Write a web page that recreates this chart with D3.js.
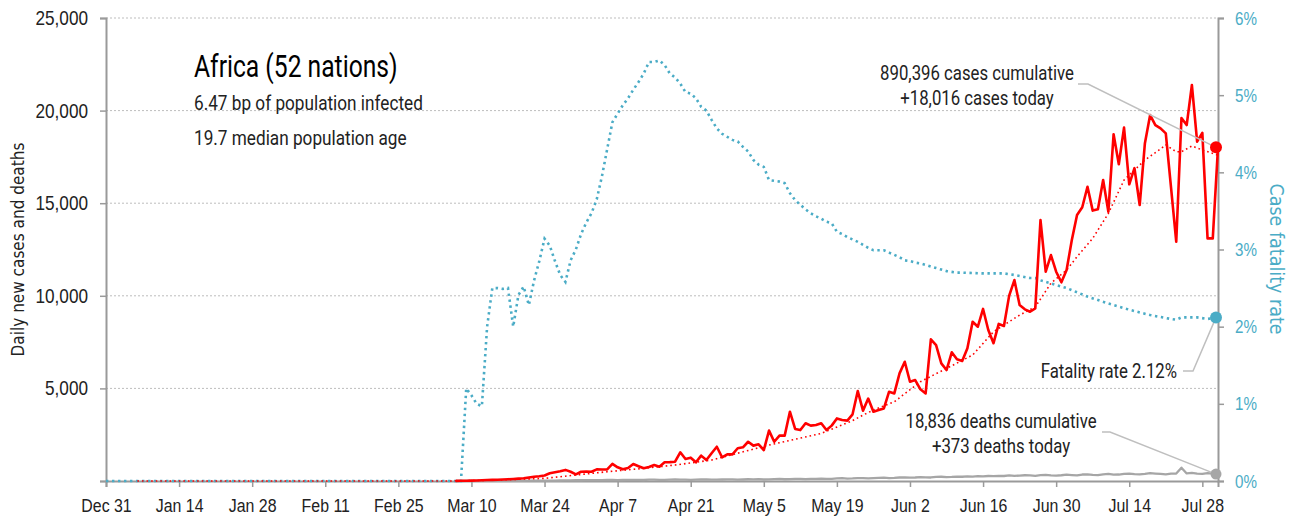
<!DOCTYPE html>
<html><head><meta charset="utf-8">
<script src="https://cdn.jsdelivr.net/npm/d3@7"></script>
<style>
body{margin:0;background:#fff;}
svg{display:block;font-family:Roboto,"Liberation Sans",sans-serif;}
</style></head><body>
<svg id="chart" width="1292" height="520"></svg>
<script>
// ---------- data ----------
const origin = new Date(2019, 11, 31);          // Dec 31
const endDate = new Date(2020, 6, 31);          // Jul 31
const seriesStart = new Date(2020, 2, 7);       // first day of daily series (Mar 7)

// daily new cases, Mar 7 .. Jul 31
const cases = [8,10,15,20,30,40,50,60,70,80,95,110,130,145,190,230,260,300,415,470,
  530,600,500,360,500,510,500,630,620,630,920,740,630,700,920,800,685,760,864,770,
  1010,1020,1040,1550,1190,1260,1010,1370,1130,1500,1850,1280,1440,1440,1770,1820,2120,1910,1980,1670,
  2720,2120,2450,2450,3740,2810,2750,3120,2990,3020,3120,2750,2990,3380,3290,3260,3600,4860,3800,4450,
  3740,3830,3920,4820,4730,5810,6440,5360,5450,4950,4730,7650,7340,6350,5990,6950,6570,6480,7170,8600,
  8330,9290,8150,7440,8480,8370,10010,10850,9500,9270,9140,9320,14090,11300,12200,11300,10730,11390,13010,14360,
  14780,15890,14600,14670,16250,14540,18720,17100,19080,16020,16890,14900,18240,19760,19220,19040,18770,15860,12920,19600,
  19220,21380,18320,18800,13100,13100,18016];

// daily new deaths, Mar 7 .. Jul 31
const deaths = [1,1,2,2,3,3,4,5,5,
  6,8,10,10,12,15,18,20,22,25,25,28,30,35,40,
  40,45,50,45,50,55,60,50,55,60,65,60,55,70,75,60,65,70,80,75,
  70,60,75,80,85,70,75,80,85,90,70,80,95,90,100,80,90,100,110,95,
  100,110,120,100,110,120,130,110,120,140,150,130,140,160,150,140,160,170,180,160,
  170,190,200,180,190,210,200,190,220,230,210,220,240,230,250,240,260,250,270,260,
  280,270,300,280,290,310,300,280,320,330,300,290,310,340,320,300,350,360,330,320,
  360,380,340,350,390,400,370,360,380,420,400,380,360,400,400,720,410,440,400,380,420,400,373];

// 7-day average of cases, day = days since Dec 31
const avgDays   = [6,66,75,84,90,96,103,109,116,121,127,137,143,145,147,151,156,161,166,170,175,178,181,184,186,189,192,195,197,199,201,203,205,206,208,210,213];
const avgValues = [0,0,50,145,320,500,685,860,1130,1500,1940,2570,3260,3560,3830,4280,5360,6080,6800,8060,8960,9400,10680,11390,12110,13100,14450,16250,16790,17330,17730,18140,17780,17780,18090,17870,17600];

// case fatality rate (%), day = days since Dec 31
const cfrDays = [0,68,69,70,71,72,73,74,75,76,77,78,79,80,81,82,83,84,85,86,87,88,89,90,91,92,93,94,95,96,97,
  99,100,101,102,103,104,105,106,107,108,109,110,111,112,113,114,115,116,117,118,119,120,121,122,123,124,125,126,127,128,129,130,
  131,132,133,134,135,136,137,138,139,140,141,142,143,144,145,146,147,148,149,150,151,152,153,154,155,156,157,158,159,160,161,
  162,163,164,168,172,174,177,178,179,181,184,188,192,196,200,204,205,206,209,211,213];
const cfrValues = [0,0,1.2,1.11,1.0,0.97,2.0,2.5,2.5,2.49,2.5,2.0,2.41,2.52,2.28,2.6,2.85,3.14,3.05,2.85,2.67,2.58,2.86,3.0,3.2,3.35,3.47,3.65,3.95,4.3,4.65,
  4.87,4.96,5.07,5.17,5.28,5.43,5.43,5.45,5.39,5.28,5.23,5.15,5.04,5.02,4.96,4.85,4.80,4.68,4.57,4.5,4.46,4.42,4.40,4.33,4.27,4.16,4.1,4.07,3.90,3.89,3.88,3.86,
  3.73,3.64,3.58,3.52,3.47,3.43,3.40,3.36,3.34,3.23,3.2,3.16,3.13,3.1,3.06,3.02,2.99,2.99,2.99,2.96,2.93,2.9,2.86,2.85,2.83,2.82,2.8,2.78,2.76,2.74,2.72,
  2.71,2.7,2.70,2.69,2.69,2.67,2.63,2.63,2.60,2.56,2.50,2.39,2.30,2.22,2.15,2.10,2.09,2.12,2.12,2.10,2.12];

const leftTicks = [0,5000,10000,15000,20000,25000];
const leftTickLabels = ["","5,000","10,000","15,000","20,000","25,000"];
const rightTicks = [0,1,2,3,4,5,6];
const rightTickLabels = ["0%","1%","2%","3%","4%","5%","6%"];
const xTickLabels = ["Dec 31","Jan 14","Jan 28","Feb 11","Feb 25","Mar 10","Mar 24","Apr 7","Apr 21","May 5","May 19","Jun 2","Jun 16","Jun 30","Jul 14","Jul 28"];

const title = "Africa (52 nations)";
const subtitle1 = "6.47 bp of population infected";
const subtitle2 = "19.7 median population age";
const casesNote = ["890,396 cases cumulative","+18,016 cases today"];
const deathsNote = ["18,836 deaths cumulative","+373 deaths today"];
const cfrNote = "Fatality rate 2.12%";

// ---------- layout ----------
const L = 106, R = 1218, T = 18, B = 481;
const RED = "#ff0000", BLUE = "#4bacc6", GRAY = "#a6a6a6", AXIS = "#9a9a9a";
const S = 0.86; // horizontal condensing of the text face

const svg = d3.select("#chart");
const x = d3.scaleTime().domain([origin, endDate]).range([L, R]);
const y = d3.scaleLinear().domain([0, 25000]).range([B, T]);
const yr = d3.scaleLinear().domain([0, 6]).range([B, T]);

const dayDate = d => d3.timeDay.offset(origin, d);
const casesData = cases.map((v, i) => ({date: d3.timeDay.offset(seriesStart, i), v}));
const deathsData = deaths.map((v, i) => ({date: d3.timeDay.offset(seriesStart, i), v}));
const avgData = avgDays.map((d, i) => ({date: dayDate(d), v: avgValues[i]}));
const cfrData = cfrDays.map((d, i) => ({date: dayDate(d), v: cfrValues[i]}));

// condensed text helpers
function condenseAxisText(g, s) {
  g.selectAll("text").each(function () {
    const t = d3.select(this);
    const x0 = +t.attr("x") || 0;
    t.attr("x", x0 / s).attr("transform", `scale(${s},1)`);
  });
}
function label(txt, px, py, size, opts = {}) {
  const s = opts.s || S;
  return svg.append("text")
    .attr("transform", `translate(${px},${py}) scale(${s},1)`)
    .attr("text-anchor", opts.anchor || "start")
    .attr("font-size", size)
    .attr("fill", opts.fill || "#222")
    .text(txt);
}

// gridlines
svg.append("g").selectAll("line").data(leftTicks.filter(t => t > 0)).join("line")
  .attr("x1", L).attr("x2", R).attr("y1", d => y(d)).attr("y2", d => y(d))
  .attr("stroke", "#bdbdbd").attr("stroke-width", 1).attr("stroke-dasharray", "2,2");

// left axis
const yAxis = d3.axisLeft(y).tickValues(leftTicks).tickFormat((d, i) => leftTickLabels[i]).tickSize(6).tickPadding(12);
const gy = svg.append("g").attr("transform", `translate(${L},0)`).call(yAxis);
gy.select(".domain").attr("stroke", AXIS).attr("stroke-width", 2);
gy.selectAll(".tick line").attr("stroke", AXIS).attr("stroke-width", 1.5);
gy.selectAll("text").attr("font-size", 20).attr("fill", "#222").style("font-family", "inherit");
condenseAxisText(gy, S);

// right axis
const yrAxis = d3.axisRight(yr).tickValues(rightTicks).tickFormat((d, i) => rightTickLabels[i]).tickSize(6).tickPadding(11);
const gr = svg.append("g").attr("transform", `translate(${R},0)`).call(yrAxis);
gr.select(".domain").attr("stroke", AXIS).attr("stroke-width", 2);
gr.selectAll(".tick line").attr("stroke", AXIS).attr("stroke-width", 1.5);
gr.selectAll("text").attr("font-size", 19).attr("fill", BLUE).style("font-family", "inherit");
condenseAxisText(gr, 0.8);

// bottom axis
const xTicks = xTickLabels.map((_, i) => d3.timeDay.offset(origin, i * 14));
const xAxis = d3.axisBottom(x).tickValues(xTicks).tickFormat((d, i) => xTickLabels[i]).tickSize(6).tickPadding(12);
const gx = svg.append("g").attr("transform", `translate(0,${B})`).call(xAxis);
gx.select(".domain").attr("stroke", AXIS).attr("stroke-width", 2);
gx.selectAll(".tick line").attr("stroke", AXIS).attr("stroke-width", 1.5);
gx.selectAll("text").attr("font-size", 18.5).attr("fill", "#222").style("font-family", "inherit");
condenseAxisText(gx, S);

// axis titles
svg.append("text").attr("transform", `translate(24,${(T + B) / 2}) rotate(-90)`)
  .attr("text-anchor", "middle").attr("font-size", 17).attr("fill", "#222")
  .style("font-family", '"DejaVu Sans Condensed",sans-serif')
  .text("Daily new cases and deaths");
svg.append("text").attr("transform", `translate(1270,259) rotate(90)`)
  .attr("text-anchor", "middle").attr("font-size", 19.5).attr("fill", BLUE)
  .style("font-family", '"DejaVu Sans Condensed",sans-serif')
  .text("Case fatality rate");

// lines
const line = sc => d3.line().x(d => x(d.date)).y(d => sc(d.v));
svg.append("path").datum(deathsData).attr("d", line(y)).attr("fill", "none")
  .attr("stroke", GRAY).attr("stroke-width", 2.3).attr("stroke-linejoin", "round");
svg.append("path").datum(cfrData).attr("d", line(yr)).attr("fill", "none")
  .attr("stroke", BLUE).attr("stroke-width", 2.6).attr("stroke-dasharray", "2.4,3.6");
svg.append("path").datum(avgData).attr("d", line(y)).attr("fill", "none")
  .attr("stroke", RED).attr("stroke-width", 1.6).attr("stroke-dasharray", "1.6,3");
svg.append("path").datum(casesData).attr("d", line(y)).attr("fill", "none")
  .attr("stroke", RED).attr("stroke-width", 2.6).attr("stroke-linejoin", "round");

// end markers
const lastC = casesData[casesData.length - 1], lastD = deathsData[deathsData.length - 1], lastR = cfrData[cfrData.length - 1];
const cx = x(lastC.date) - 2;

// leader lines
const leader = pts => svg.append("polyline").attr("points", pts.map(p => p.join(",")).join(" "))
  .attr("fill", "none").attr("stroke", "#bfbfbf").attr("stroke-width", 1.5);
leader([[1078, 84], [1088, 84], [cx, y(lastC.v)]]);
leader([[1183, 371], [1193, 371], [cx, yr(lastR.v)]]);
leader([[1102, 432], [1110, 432], [cx, y(lastD.v)]]);

svg.append("circle").attr("cx", cx).attr("cy", y(lastD.v)).attr("r", 5.5).attr("fill", GRAY);
svg.append("circle").attr("cx", cx).attr("cy", yr(lastR.v)).attr("r", 6).attr("fill", BLUE);
svg.append("circle").attr("cx", cx).attr("cy", y(lastC.v)).attr("r", 6).attr("fill", RED);

// title block
label(title, 194, 77, 32, {s: 0.77, fill: "#000"});
label(subtitle1, 194, 110, 20);
label(subtitle2, 194, 145, 20);

// annotations
const note = (lines, cxp, y0) => lines.forEach((t, i) => label(t, cxp, y0 + i * 25, 19.5, {anchor: "middle"}));
note(casesNote, 977, 80);
note(deathsNote, 1001, 428);
label(cfrNote, 1177, 378, 19.5, {anchor: "end"});
</script>
</body></html>
